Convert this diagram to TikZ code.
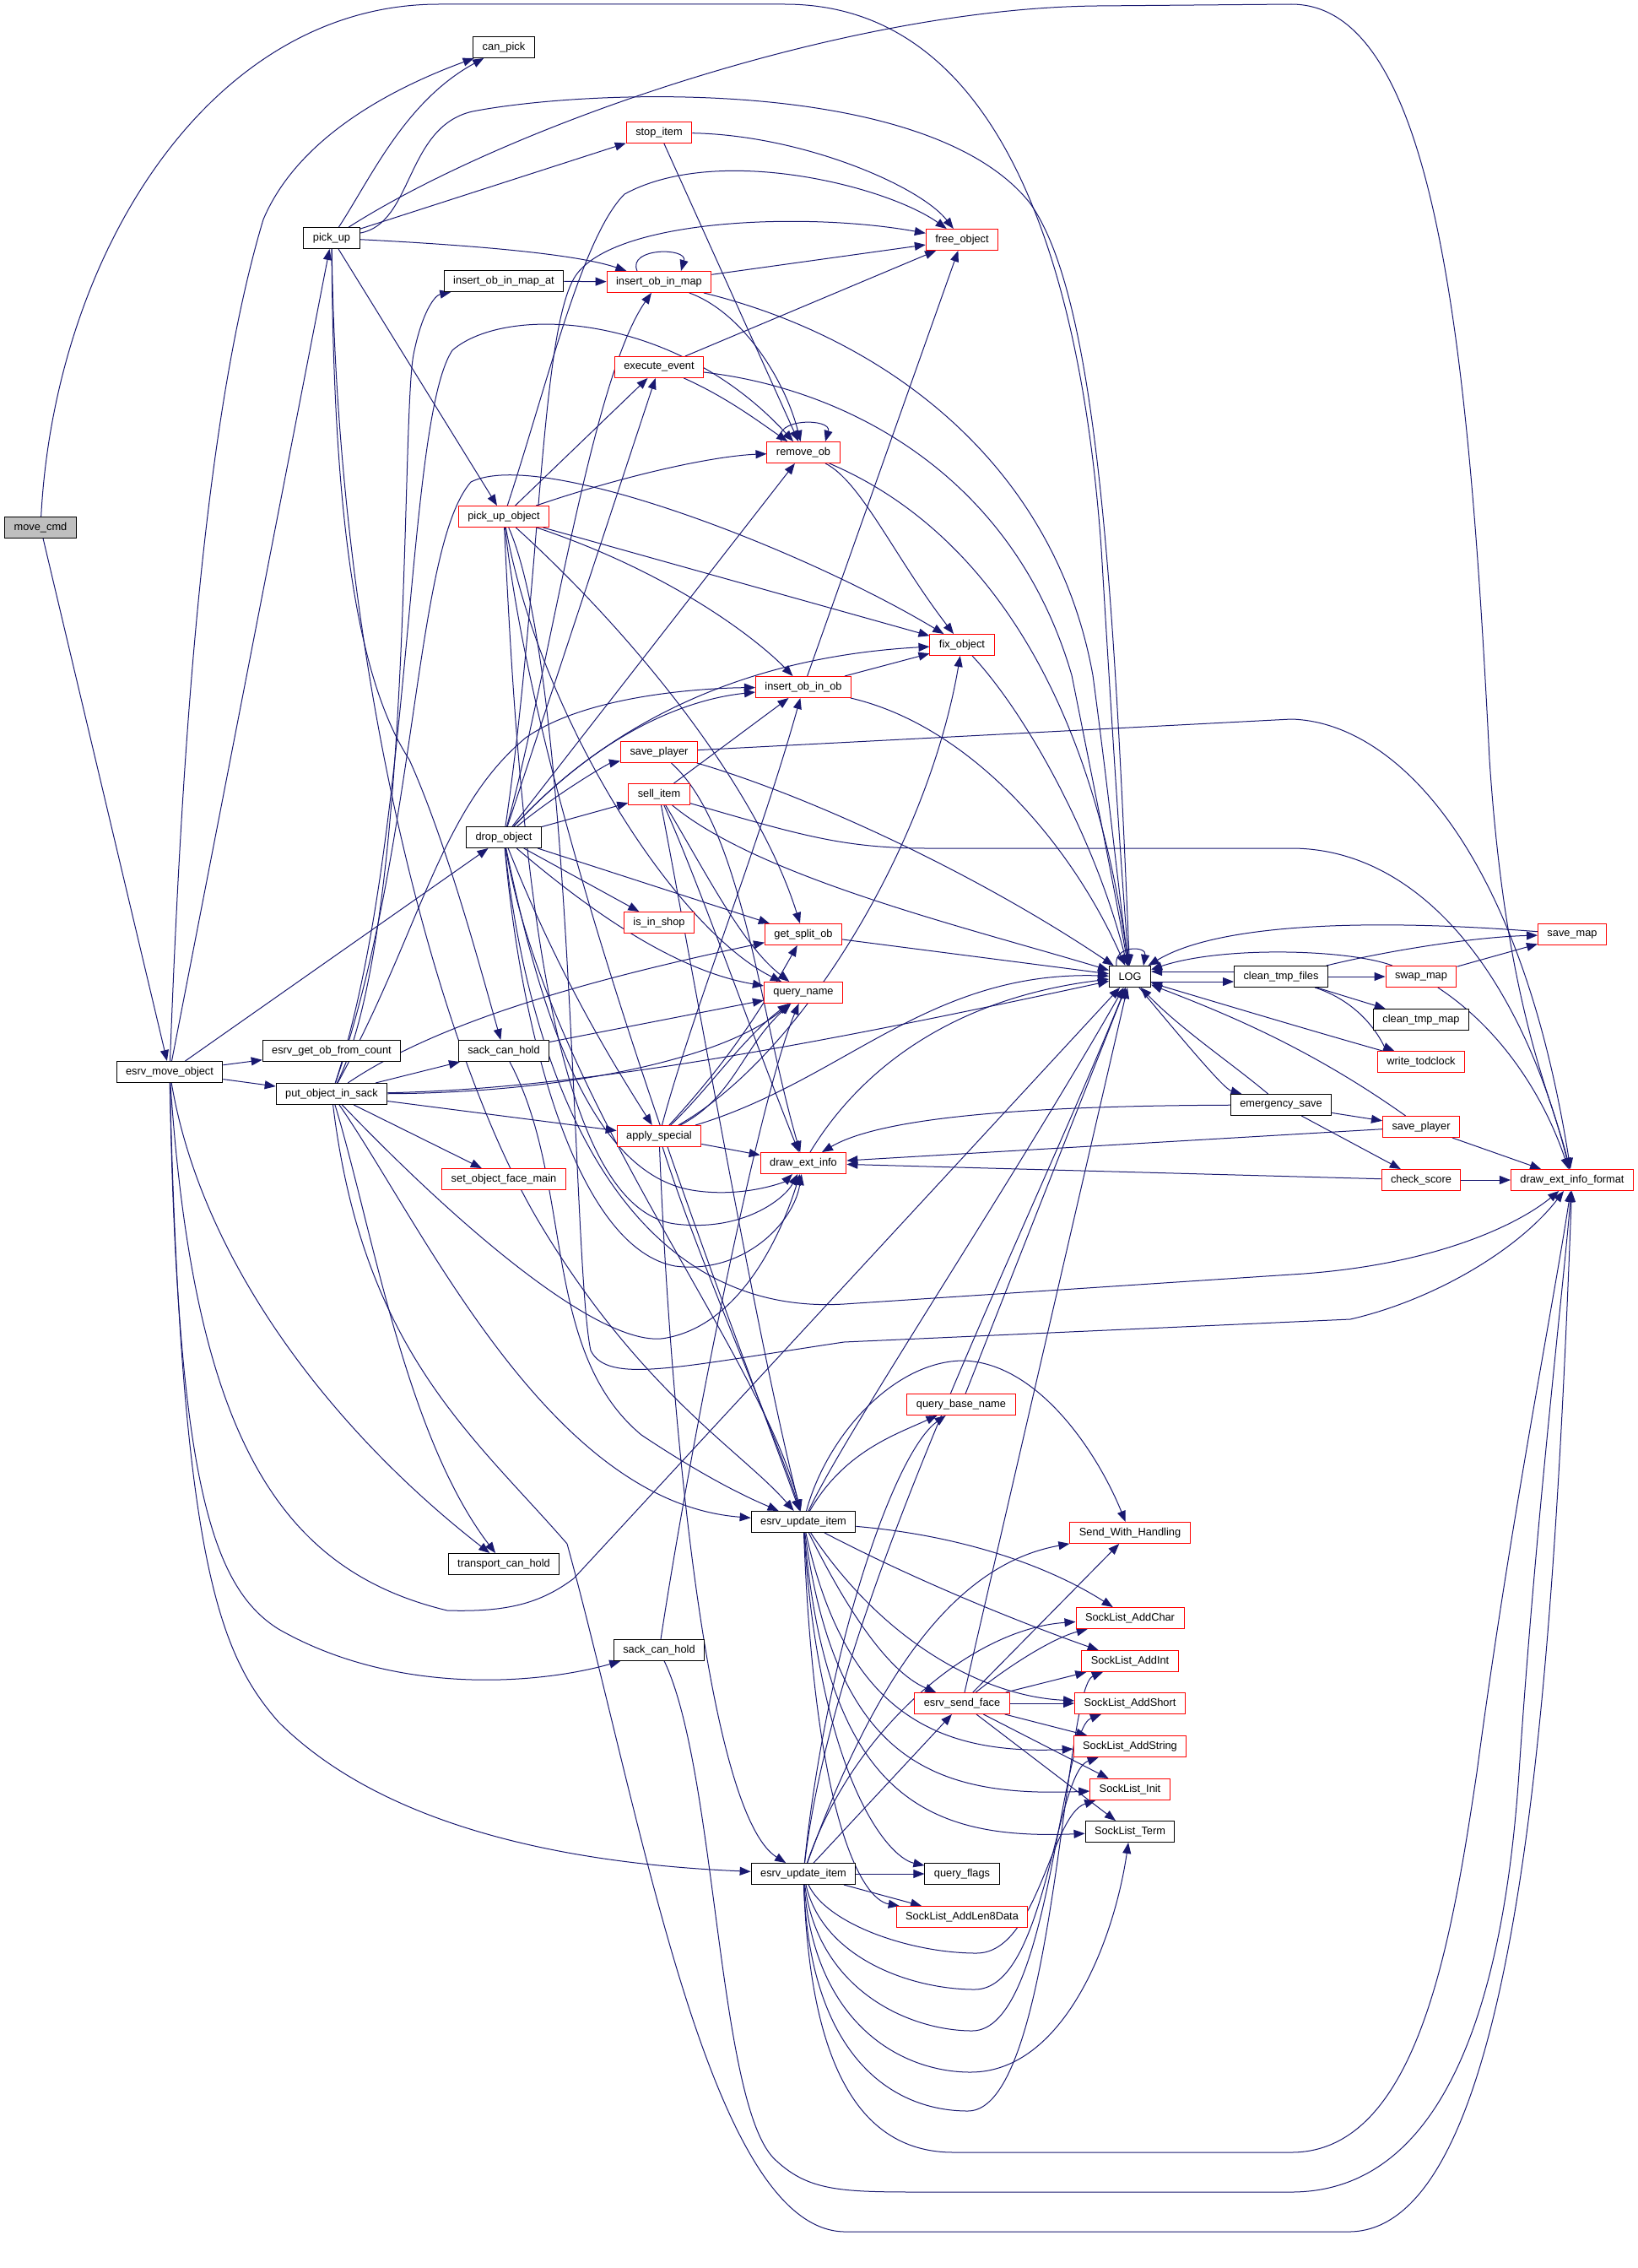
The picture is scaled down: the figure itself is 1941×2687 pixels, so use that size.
\documentclass[tikz,border=0pt]{standalone}
\usepackage{fontspec}
\setmainfont{Liberation Sans}
\usepackage{xcolor}
\usetikzlibrary{arrows.meta,backgrounds}
\definecolor{callblue}{HTML}{191970}
\definecolor{rootgray}{HTML}{BFBFBF}
\tikzset{
	fn/.style={draw=black, fill=white, line width=0.5pt, font=\fontsize{6.4}{7.5}\selectfont, inner xsep=5.5pt, inner ysep=0pt, minimum height=12.5pt},
	fnred/.style={fn, draw=red},
	fnroot/.style={fn, fill=rootgray},
	call/.style={draw=callblue, line width=0.5pt, -{Triangle[length=6.5pt,width=5pt]}}
}
\begin{document}
\begin{tikzpicture}[x=0.5pt,y=-0.5pt]
\useasboundingbox (0,0) rectangle (1941,2687);

\node[fnroot] (movecmd) at (48,625) {move\_cmd};
\node[fn] (moveobj) at (201,1270) {esrv\_move\_object};
\node[fn] (pickup) at (393,282) {pick\_up};
\node[fn] (getobcount) at (393,1245) {esrv\_get\_ob\_from\_count};
\node[fn] (putsack) at (393,1296) {put\_object\_in\_sack};
\node[fn] (canpick) at (597,56) {can\_pick};
\node[fn] (insmapat) at (597,333) {insert\_ob\_in\_map\_at};
\node[fnred] (pickupobj) at (597,612) {pick\_up\_object};
\node[fn] (dropobj) at (597,992) {drop\_object};
\node[fn] (sackholdA) at (597,1245) {sack\_can\_hold};
\node[fnred] (setface) at (597,1397) {set\_object\_face\_main};
\node[fn] (transhold) at (597,1853) {transport\_can\_hold};
\node[fnred] (stopitem) at (781,157) {stop\_item};
\node[fnred] (insmap) at (781,334) {insert\_ob\_in\_map};
\node[fnred] (execevent) at (781,435) {execute\_event};
\node[fnred] (saveplayerA) at (781,891) {save\_player};
\node[fnred] (sellitem) at (781,941) {sell\_item};
\node[fnred] (isinshop) at (781,1093) {is\_in\_shop};
\node[fnred] (applyspecial) at (781,1346) {apply\_special};
\node[fn] (sackholdB) at (781,1955) {sack\_can\_hold};
\node[fnred] (removeob) at (952,536) {remove\_ob};
\node[fnred] (insob) at (952,814) {insert\_ob\_in\_ob};
\node[fnred] (getsplit) at (952,1107) {get\_split\_ob};
\node[fnred] (queryname) at (952,1176) {query\_name};
\node[fnred] (drawinfo) at (952,1378) {draw\_ext\_info};
\node[fn] (updateA) at (952,1803) {esrv\_update\_item};
\node[fn] (updateB) at (952,2220) {esrv\_update\_item};
\node[fnred] (freeobj) at (1140,284) {free\_object};
\node[fnred] (fixobj) at (1140,764) {fix\_object};
\node[fnred] (basename) at (1139,1664) {query\_base\_name};
\node[fnred] (sendface) at (1140,2018) {esrv\_send\_face};
\node[fn] (queryflags) at (1140,2220) {query\_flags};
\node[fnred] (addlen8) at (1140,2271) {SockList\_AddLen8Data};
\node[fn] (logfn) at (1339,1157) {LOG};
\node[fnred] (sendhandling) at (1339,1816) {Send\_With\_Handling};
\node[fnred] (addchar) at (1339,1917) {SockList\_AddChar};
\node[fnred] (addint) at (1339,1968) {SockList\_AddInt};
\node[fnred] (addshort) at (1339,2018) {SockList\_AddShort};
\node[fnred] (addstring) at (1339,2069) {SockList\_AddString};
\node[fnred] (sockinit) at (1339,2120) {SockList\_Init};
\node[fn] (sockterm) at (1339,2170) {SockList\_Term};
\node[fn] (cleantmp) at (1518,1157) {clean\_tmp\_files};
\node[fn] (emergency) at (1518,1309) {emergency\_save};
\node[fnred] (swapmap) at (1684,1157) {swap\_map};
\node[fn] (cleanmap) at (1684,1208) {clean\_tmp\_map};
\node[fnred] (todclock) at (1684,1258) {write\_todclock};
\node[fnred] (saveplayerB) at (1684,1335) {save\_player};
\node[fnred] (checkscore) at (1684,1398) {check\_score};
\node[fnred] (savemap) at (1863,1107) {save\_map};
\node[fnred] (drawfmt) at (1863,1398) {draw\_ext\_info\_format};

\begin{scope}[on background layer]
% move_cmd
\draw[call] (movecmd) -- (moveobj);
\draw[call] (movecmd) .. controls (65,300) and (250,5) .. (520,5) -- (930,5) .. controls (1180,5) and (1280,300) .. (1305,650) .. controls (1320,900) and (1330,1050) .. (logfn);

% esrv_move_object
\draw[call] (moveobj) -- (getobcount);
\draw[call] (moveobj) -- (putsack);
\draw[call] (moveobj) -- (dropobj);
\draw[call] (moveobj) -- (pickup);
\draw[call] (moveobj) .. controls (215,900) and (240,500) .. (312,260) .. controls (350,170) and (450,110) .. (canpick);
\draw[call] (moveobj) .. controls (230,1700) and (330,1860) .. (530,1908) .. controls (600,1910) and (640,1900) .. (680,1870) -- (logfn);
\draw[call] (moveobj) .. controls (240,1500) and (400,1700) .. (transhold);
\draw[call] (moveobj) .. controls (210,1750) and (250,1880) .. (330,1930) .. controls (470,2010) and (640,1995) .. (sackholdB);
\draw[call] (moveobj) .. controls (215,1850) and (260,1960) .. (330,2040) .. controls (470,2180) and (720,2210) .. (updateB);

% pick_up
\draw[call] (pickup) .. controls (440,210) and (480,120) .. (canpick);
\draw[call] (pickup) .. controls (600,150) and (1000,10) .. (1300,7) -- (1530,5) .. controls (1700,5) and (1740,400) .. (1765,900) .. controls (1785,1200) and (1840,1300) .. (drawfmt);
\draw[call] (pickup) .. controls (490,265) and (480,150) .. (560,132) .. controls (700,105) and (1100,90) .. (1220,240) .. controls (1300,350) and (1320,700) .. (logfn);
\draw[call] (pickup) -- (stopitem);
\draw[call] (pickup) .. controls (550,290) and (680,300) .. (insmap);
\draw[call] (pickup) -- (pickupobj);
\draw[call] (pickup) .. controls (395,600) and (420,800) .. (485,900) .. controls (530,1000) and (570,1150) .. (sackholdA);
\draw[call] (pickup) .. controls (400,800) and (520,1250) .. (640,1450) .. controls (760,1650) and (880,1720) .. (updateA);

% stop_item, insert_ob_in_map_at, insert_ob_in_map
\draw[call] (stopitem) .. controls (950,160) and (1090,220) .. (freeobj);
\draw[call] (stopitem) -- (removeob);
\draw[call] (insmapat) -- (insmap);
\draw[call] ([xshift=-13pt]insmap.north) .. controls +(-6pt,14pt) and +(4pt,14pt) .. ([xshift=13pt]insmap.north);
\draw[call] (insmap) -- (freeobj);
\draw[call] (insmap) .. controls (880,370) and (930,450) .. (removeob);
\draw[call] (insmap) .. controls (1050,400) and (1250,550) .. (1295,800) .. controls (1315,950) and (1325,1050) .. (logfn);

% execute_event, remove_ob
\draw[call] (execevent) -- (freeobj);
\draw[call] (execevent) .. controls (860,470) and (900,500) .. (removeob);
\draw[call] (execevent) .. controls (1000,460) and (1200,560) .. (1270,800) .. controls (1300,950) and (1320,1050) .. (logfn);
\draw[call] ([xshift=-13pt]removeob.north) .. controls +(-6pt,14pt) and +(4pt,14pt) .. ([xshift=13pt]removeob.north);
\draw[call] (removeob) .. controls (1020,570) and (1060,660) .. (fixobj);
\draw[call] (removeob) .. controls (1150,620) and (1290,800) .. (logfn);

% pick_up_object
\draw[call] (pickupobj) -- (execevent);
\draw[call] (pickupobj) .. controls (750,560) and (850,540) .. (removeob);
\draw[call] (pickupobj) -- (fixobj);
\draw[call] (pickupobj) .. controls (800,680) and (900,760) .. (insob);
\draw[call] (pickupobj) .. controls (760,760) and (900,940) .. (getsplit);
\draw[call] (pickupobj) .. controls (640,850) and (800,1100) .. (queryname);
\draw[call] (pickupobj) .. controls (650,450) and (690,280) .. (740,230) .. controls (850,170) and (1050,220) .. (freeobj);
\draw[call] (pickupobj) .. controls (615,1000) and (650,1430) .. (800,1450) .. controls (880,1460) and (930,1420) .. (drawinfo);
\draw[call] (pickupobj) .. controls (640,1000) and (880,1600) .. (updateA);
\draw[call] (pickupobj) .. controls (680,800) and (678,1500) .. (700,1600) .. controls (720,1640) and (800,1620) .. (1000,1590) -- (1600,1563) .. controls (1700,1540) and (1800,1480) .. (drawfmt);

% fix_object, insert_ob_in_ob
\draw[call] (fixobj) .. controls (1220,850) and (1300,1000) .. (logfn);
\draw[call] (insob) -- (freeobj);
\draw[call] (insob) -- (fixobj);
\draw[call] (insob) .. controls (1150,860) and (1270,1000) .. (logfn);

% save_player, sell_item
\draw[call] (saveplayerA) -- (1530,852) .. controls (1650,855) and (1800,1000) .. (drawfmt);
\draw[call] (saveplayerA) .. controls (950,940) and (1150,1030) .. (logfn);
\draw[call] (saveplayerA) .. controls (880,980) and (900,1200) .. (drawinfo);
\draw[call] (sellitem) -- (insob);
\draw[call] (sellitem) .. controls (950,990) and (1000,1005) .. (1100,1005) -- (1530,1005) .. controls (1680,1005) and (1800,1150) .. (drawfmt);
\draw[call] (sellitem) .. controls (900,1040) and (1150,1100) .. (logfn);
\draw[call] (sellitem) .. controls (840,1040) and (880,1120) .. (queryname);
\draw[call] (sellitem) .. controls (830,1050) and (900,1250) .. (drawinfo);
\draw[call] (sellitem) .. controls (830,1200) and (900,1600) .. (updateA);

% drop_object
\draw[call] (dropobj) .. controls (660,940) and (720,905) .. (saveplayerA);
\draw[call] (dropobj) -- (sellitem);
\draw[call] (dropobj) -- (isinshop);
\draw[call] (dropobj) -- (getsplit);
\draw[call] (dropobj) .. controls (700,1080) and (800,1150) .. (queryname);
\draw[call] (dropobj) .. controls (660,1150) and (720,1250) .. (applyspecial);
\draw[call] (dropobj) -- (removeob);
\draw[call] (dropobj) -- (execevent);
\draw[call] (dropobj) .. controls (650,800) and (700,450) .. (insmap);
\draw[call] (dropobj) .. controls (640,700) and (640,400) .. (680,330) .. controls (720,260) and (950,250) .. (freeobj);
\draw[call] (dropobj) .. controls (700,880) and (850,780) .. (fixobj);
\draw[call] (dropobj) .. controls (700,880) and (800,830) .. (insob);
\draw[call] (dropobj) .. controls (640,1200) and (700,1390) .. (820,1410) .. controls (880,1420) and (930,1400) .. (drawinfo);
\draw[call] (dropobj) .. controls (620,1250) and (690,1480) .. (800,1500) .. controls (880,1510) and (940,1450) .. (drawinfo);
\draw[call] (dropobj) .. controls (630,1300) and (750,1560) .. (1000,1545) -- (1530,1510) .. controls (1700,1500) and (1800,1450) .. (drawfmt);
\draw[call] (dropobj) .. controls (650,1300) and (900,1600) .. (updateA);

% get_split_ob, draw_ext_info, query_base_name
\draw[call] (getsplit) -- (logfn);
\draw[call] (drawinfo) .. controls (1030,1250) and (1150,1180) .. (logfn);
\draw[call] (basename) -- (logfn);

% put_object_in_sack
\draw[call] (putsack) -- (sackholdA);
\draw[call] (putsack) .. controls (520,1210) and (700,1160) .. (getsplit);
\draw[call] (putsack) .. controls (650,1295) and (850,1260) .. (queryname);
\draw[call] (putsack) -- (applyspecial);
\draw[call] (putsack) -- (setface);
\draw[call] (putsack) .. controls (560,1470) and (720,1600) .. (790,1585) .. controls (870,1570) and (920,1480) .. (drawinfo);
\draw[call] (putsack) .. controls (490,1100) and (475,500) .. (490,420) .. controls (500,370) and (515,350) .. (insmapat);
\draw[call] (putsack) .. controls (490,1000) and (480,500) .. (536,415) .. controls (600,360) and (800,370) .. (removeob);
\draw[call] (putsack) .. controls (495,1000) and (490,650) .. (558,571) .. controls (640,530) and (950,650) .. (fixobj);
\draw[call] (putsack) .. controls (500,1100) and (520,960) .. (623,874) .. controls (700,820) and (850,815) .. (insob);
\draw[call] (putsack) .. controls (440,1450) and (480,1700) .. (transhold);
\draw[call] (putsack) .. controls (500,1450) and (650,1780) .. (updateA);
\draw[call] (putsack) .. controls (700,1290) and (1000,1230) .. (logfn);
\draw[call] (putsack) .. controls (430,1600) and (560,1700) .. (672,1829) .. controls (760,2150) and (840,2640) .. (1000,2644) -- (1600,2644) .. controls (1800,2640) and (1840,2000) .. (drawfmt);

% sack_can_hold
\draw[call] (sackholdA) -- (queryname);
\draw[call] (sackholdA) .. controls (680,1400) and (640,1600) .. (760,1700) .. controls (850,1760) and (900,1780) .. (updateA);
\draw[call] (sackholdB) .. controls (820,1700) and (900,1300) .. (queryname);
\draw[call] (sackholdB) .. controls (850,2100) and (850,2500) .. (920,2560) .. controls (960,2597) and (1000,2597) .. (1100,2597) -- (1530,2597) .. controls (1700,2597) and (1780,2400) .. (1800,2100) .. controls (1820,1800) and (1850,1550) .. (drawfmt);

% apply_special
\draw[call] (applyspecial) .. controls (820,1200) and (900,1000) .. (insob);
\draw[call] (applyspecial) .. controls (860,1260) and (900,1200) .. (getsplit);
\draw[call] (applyspecial) .. controls (840,1290) and (880,1230) .. (queryname);
\draw[call] (applyspecial) .. controls (870,1300) and (880,1240) .. (queryname);
\draw[call] (applyspecial) .. controls (1000,1280) and (1100,1150) .. (logfn);
\draw[call] (applyspecial) -- (drawinfo);
\draw[call] (applyspecial) .. controls (950,1250) and (1100,1000) .. (fixobj);
\draw[call] (applyspecial) .. controls (830,1500) and (920,1700) .. (updateA);
\draw[call] (applyspecial) .. controls (795,1700) and (840,2150) .. (updateB);

% LOG and its callers on the right
\draw[call] ([xshift=-8pt]logfn.north) .. controls +(-2pt,12pt) and +(2pt,12pt) .. ([xshift=8pt]logfn.north);
\draw[call] ([yshift=-3pt]logfn.east) -- ([yshift=-3pt]cleantmp.west);
\draw[call] ([yshift=3pt]cleantmp.west) -- ([yshift=3pt]logfn.east);
\draw[call] (logfn) .. controls (1400,1230) and (1450,1290) .. (emergency);
\draw[call] (cleantmp) -- (swapmap);
\draw[call] (cleantmp) -- (cleanmap);
\draw[call] (cleantmp) .. controls (1620,1190) and (1640,1240) .. (todclock);
\draw[call] (cleantmp) .. controls (1650,1125) and (1750,1110) .. (savemap);
\draw[call] (swapmap) -- (savemap);
\draw[call] (swapmap) .. controls (1600,1125) and (1450,1120) .. (logfn);
\draw[call] (swapmap) .. controls (1780,1220) and (1830,1300) .. (drawfmt);
\draw[call] (savemap) .. controls (1650,1090) and (1450,1090) .. (logfn);
\draw[call] (todclock) .. controls (1550,1220) and (1450,1190) .. (logfn);
\draw[call] (emergency) .. controls (1460,1260) and (1400,1220) .. (logfn);
\draw[call] (emergency) -- (saveplayerB);
\draw[call] (emergency) -- (checkscore);
\draw[call] (emergency) .. controls (1250,1310) and (1050,1320) .. (drawinfo);
\draw[call] (saveplayerB) .. controls (1550,1240) and (1450,1200) .. (logfn);
\draw[call] (saveplayerB) -- (drawinfo);
\draw[call] (saveplayerB) -- (drawfmt);
\draw[call] (checkscore) -- (drawinfo);
\draw[call] (checkscore) -- (drawfmt);

% esrv_update_item (upper)
\draw[call] (updateA) .. controls (1000,1700) and (1200,1400) .. (logfn);
\draw[call] (updateA) .. controls (1000,1720) and (1060,1700) .. (basename);
\draw[call] (updateA) .. controls (980,1700) and (1060,1612) .. (1142,1612) .. controls (1230,1615) and (1300,1720) .. (sendhandling);
\draw[call] (updateA) .. controls (1150,1820) and (1250,1860) .. (addchar);
\draw[call] (updateA) .. controls (1100,1880) and (1230,1930) .. (addint);
\draw[call] (updateA) .. controls (1050,1950) and (1170,2010) .. (addshort);
\draw[call] (updateA) .. controls (1000,2020) and (1100,2080) .. (addstring);
\draw[call] (updateA) .. controls (990,2080) and (1100,2130) .. (sockinit);
\draw[call] (updateA) .. controls (980,2130) and (1100,2180) .. (sockterm);
\draw[call] (updateA) .. controls (1000,1900) and (1050,1980) .. (sendface);
\draw[call] (updateA) .. controls (970,2100) and (1050,2200) .. (queryflags);
\draw[call] (updateA) .. controls (965,2150) and (1020,2250) .. (addlen8);

% esrv_send_face
\draw[call] (sendface) -- (logfn);
\draw[call] (sendface) -- (sendhandling);
\draw[call] (sendface) .. controls (1200,1970) and (1250,1940) .. (addchar);
\draw[call] (sendface) -- (addint);
\draw[call] (sendface) -- (addshort);
\draw[call] (sendface) -- (addstring);
\draw[call] (sendface) -- (sockinit);
\draw[call] (sendface) -- (sockterm);

% esrv_update_item (lower)
\draw[call] (updateB) -- (queryflags);
\draw[call] (updateB) -- (addlen8);
\draw[call] (updateB) -- (sendface);
\draw[call] (updateB) .. controls (980,1950) and (1060,1720) .. (basename);
\draw[call] (updateB) .. controls (990,1900) and (1200,1500) .. (logfn);
\draw[call] (updateB) .. controls (1050,1950) and (1150,1850) .. (sendhandling);
\draw[call] (updateB) .. controls (1010,2050) and (1150,1930) .. (addchar);
\draw[call] (updateB) .. controls (980,2280) and (1080,2314) .. (1157,2314) .. controls (1230,2314) and (1245,2150) .. (sockinit);
\draw[call] (updateB) .. controls (975,2320) and (1080,2357) .. (1155,2357) .. controls (1240,2357) and (1250,2100) .. (addstring);
\draw[call] (updateB) .. controls (970,2360) and (1080,2406) .. (1152,2406) .. controls (1245,2406) and (1255,2050) .. (addshort);
\draw[call] (updateB) .. controls (965,2400) and (1070,2455) .. (1150,2455) .. controls (1260,2455) and (1320,2300) .. (sockterm);
\draw[call] (updateB) .. controls (960,2440) and (1060,2501) .. (1147,2501) .. controls (1250,2501) and (1260,2000) .. (addint);
\draw[call] (updateB) .. controls (960,2450) and (1020,2550) .. (1130,2550) -- (1530,2550) .. controls (1680,2550) and (1720,2300) .. (1750,2100) .. controls (1790,1800) and (1840,1550) .. (drawfmt);
\end{scope}

\end{tikzpicture}
\end{document}
